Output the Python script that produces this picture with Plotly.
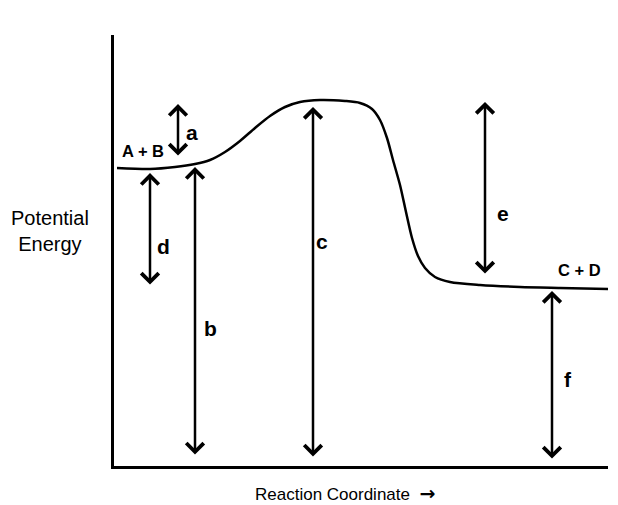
import plotly.graph_objects as go

# Energy profile (arbitrary units)
reaction_coord = [3, 36, 61, 81, 96, 111, 126, 141, 156, 171, 186, 206, 231, 246, 258, 266,
                  273, 279, 286, 292, 298, 304, 311, 321, 336, 366, 406, 446, 494]
potential_energy = [298, 297, 299, 302, 306, 314, 325, 338, 350, 359, 364, 366, 365, 363, 357, 346,
                    328, 306, 281, 254, 228, 210, 198, 189, 184, 181, 179, 178, 177]

# Double-headed arrows: label, x, bottom, top, label x, label y
arrow_labels = ["a", "d", "b", "c", "e", "f"]
arrow_x = [64, 36, 81, 199, 371, 438]
arrow_bottom = [309, 180, 10, 8, 191, 6]
arrow_top = [362, 293, 299, 359, 364, 175]
label_x = [78, 49, 96, 208, 389, 454]
label_y = [334, 220, 138, 225, 253, 87]

species_text = ["A + B", "C + D"]
species_x = [29, 465]
species_y = [315, 196]

x_range = [0, 494]
y_range = [0, 431]

FONT = "Liberation Sans, Arial, sans-serif"

fig = go.Figure()
fig.add_trace(go.Scatter(
    x=reaction_coord, y=potential_energy, mode="lines",
    line=dict(color="black", width=2.5, shape="spline", smoothing=0.8),
    hoverinfo="skip", showlegend=False,
))

annotations = []
for lab, x, y0, y1, lx, ly in zip(arrow_labels, arrow_x, arrow_bottom, arrow_top, label_x, label_y):
    annotations.append(dict(
        x=x, y=y1, ax=x, ay=y0, xref="x", yref="y", axref="x", ayref="y",
        showarrow=True, arrowhead=4, startarrowhead=4, arrowside="end+start",
        arrowsize=1.35, startarrowsize=1.35, arrowwidth=2.5, arrowcolor="black", text="",
        standoff=0, startstandoff=0,
    ))
    annotations.append(dict(
        x=lx, y=ly, xref="x", yref="y", text="<b>%s</b>" % lab, showarrow=False,
        xanchor="center", yanchor="middle",
        font=dict(family=FONT, size=21, color="black"),
    ))

for t, x, y in zip(species_text, species_x, species_y):
    annotations.append(dict(
        x=x, y=y, xref="x", yref="y", text="<b>%s</b>" % t, showarrow=False,
        xanchor="center", yanchor="middle",
        font=dict(family=FONT, size=16.5, color="black"),
    ))

annotations.append(dict(
    x=-64 / 494, y=235 / 431, xref="paper", yref="paper",
    text="Potential<br>Energy", showarrow=False, align="center",
    xanchor="center", yanchor="middle",
    font=dict(family=FONT, size=20, color="black"),
))
annotations.append(dict(
    x=231 / 494, y=-27 / 431, xref="paper", yref="paper",
    text="Reaction Coordinate  <span style='font-family:DejaVu Sans;font-size:19px'><b>→</b></span>",
    showarrow=False, xanchor="center", yanchor="middle",
    font=dict(family=FONT, size=17, color="black"),
))

axis_common = dict(showline=True, linecolor="black", linewidth=2.5, showgrid=False,
                   zeroline=False, showticklabels=False, ticks="", fixedrange=True)

# page body adds an 8px offset; compensate so the plot lands where the reference has it
fig.update_layout(
    width=610, height=497,
    margin=dict(l=106, r=10, t=27, b=39),
    paper_bgcolor="white", plot_bgcolor="white",
    xaxis=dict(range=x_range, **axis_common),
    yaxis=dict(range=y_range, **axis_common),
    annotations=annotations,
    showlegend=False,
)

fig.write_html("out.html")
